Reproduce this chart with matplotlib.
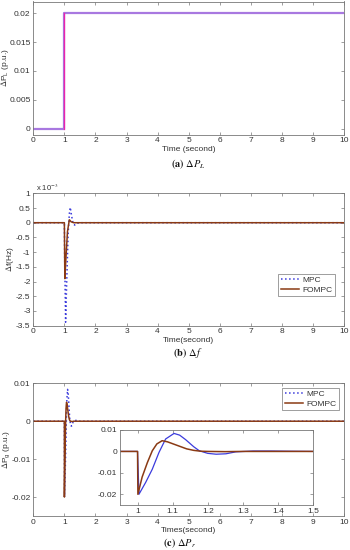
import matplotlib
matplotlib.use("Agg")
import matplotlib.pyplot as plt

# ---------------- data ----------------
t_load = [0, 1, 1, 10]
dPL = [0, 0, 0.02, 0.02]

t_f_mpc = [0, 1.0, 1.01, 1.04, 1.07, 1.12, 1.16, 1.19, 1.23, 1.28, 1.33, 1.4, 1.5, 10]
f_mpc = [0, 0, -1.2e-3, -3.38e-3, -2.2e-3, -0.4e-3, 0.3e-3, 0.52e-3, 0.25e-3,
         -0.02e-3, -0.08e-3, -0.02e-3, 0.0, 0.0]
t_f_fompc = [0, 1.0, 1.015, 1.05, 1.1, 1.16, 1.22, 1.3, 10]
f_fompc = [0, 0, -1.9e-3, -1.2e-3, -0.3e-3, 0.1e-3, 0.03e-3, 0.0, 0.0]

t_p_mpc = [0, 1.0, 1.004, 1.023, 1.042, 1.061, 1.08, 1.104, 1.12, 1.137, 1.16,
           1.176, 1.2, 1.224, 1.252, 1.28, 1.33, 1.38, 1.43, 1.5, 10]
p_mpc = [0, 0, -0.02, -0.0145, -0.0083, -0.0005, 0.0058, 0.0084, 0.0076, 0.0055,
         0.0022, 0.0003, -0.0009, -0.0013, -0.0011, -0.0002, 0.0002, 0.0002,
         0.0001, 0.0, 0.0]
t_p_fompc = [0, 1.0, 1.001, 1.013, 1.028, 1.042, 1.055, 1.07, 1.085, 1.1, 1.12,
             1.14, 1.16, 1.18, 1.2, 1.25, 1.3, 10]
p_fompc = [0, 0, -0.02, -0.012, -0.0052, 0.0003, 0.0035, 0.005, 0.0045, 0.0036,
           0.0024, 0.0012, 0.0005, 0.0001, 0.0, -0.0001, 0.0, 0.0]

xticks_main = list(range(0, 11))
yticks_a = [0, 0.005, 0.01, 0.015, 0.02]
yticks_b = [-3.5e-3, -3e-3, -2.5e-3, -2e-3, -1.5e-3, -1e-3, -0.5e-3, 0, 0.5e-3, 1e-3]
yticks_c = [-0.02, -0.01, 0, 0.01]
xticks_ins = [1, 1.1, 1.2, 1.3, 1.4, 1.5]
yticks_ins = [-0.02, -0.01, 0, 0.01]

# ---------------- style ----------------
plt.rcParams['font.family'] = ['Liberation Sans', 'DejaVu Sans']
plt.rcParams['axes.unicode_minus'] = False
plt.rcParams['mathtext.fontset'] = 'stix'
FS = 6
TXT = '#333333'
SPINE = '#777777'
MPC_C = '#3b3bdc'
FOMPC_C = '#8a3a14'

fig = plt.figure(figsize=(3.5, 5.5), dpi=100)


def style(ax):
    for s in ax.spines.values():
        s.set_color(SPINE)
        s.set_linewidth(0.6)
    ax.tick_params(direction='in', length=2, width=0.5, colors=SPINE,
                   labelcolor=TXT, labelsize=FS, top=True, right=True, pad=2)


W = 350.0
H = 550.0


def rect(l, t, r, b):
    return [l / W, 1 - b / H, (r - l) / W, (b - t) / H]


def legend(ax, **kw):
    lg = ax.legend(fontsize=FS, handlelength=2.2, handletextpad=0.4, borderpad=0.3,
                   labelspacing=0.2, fancybox=False, framealpha=1, **kw)
    lg.get_frame().set_edgecolor(SPINE)
    lg.get_frame().set_linewidth(0.5)
    for tx in lg.get_texts():
        tx.set_color(TXT)
    return lg


# Panel (a)
ax1 = fig.add_axes(rect(33.3, 1.5, 344, 134.7))
ax1.plot(t_load, dPL, color='#a878e0', lw=1.6)
ax1.plot(t_load[1:3], dPL[1:3], color='#ee22aa', lw=0.9)
ax1.set_xlim(0, 10)
ax1.set_ylim(-0.001, 0.022)
ax1.set_xticks(xticks_main)
ax1.set_yticks(yticks_a)
ax1.set_yticklabels(['0', '0.005', '0.01', '0.015', '0.02'])
ax1.set_xlabel('Time (second)', fontsize=FS, color=TXT, labelpad=1)
ax1.set_ylabel(r'$\Delta$P$_\mathregular{L}$ (p.u.)', fontsize=FS, color=TXT)
ax1.yaxis.set_label_coords(-0.071, 0.5)
style(ax1)
fig.text(188 / W, 1 - 164 / H, r'$\mathbf{(a)}$ $\Delta P_L$', ha='center', va='center',
         fontsize=7.5, color='#111111')

# Panel (b)
ax2 = fig.add_axes(rect(33.3, 193.3, 344, 325.7))
ax2.plot(t_f_mpc, f_mpc, color=MPC_C, lw=1.1, ls=':', label='MPC')
ax2.plot(t_f_fompc, f_fompc, color=FOMPC_C, lw=1.1, label='FOMPC')
ax2.set_xlim(0, 10)
ax2.set_ylim(-3.5e-3, 1e-3)
ax2.set_xticks(xticks_main)
ax2.set_yticks(yticks_b)
ax2.set_yticklabels(['-3.5', '-3', '-2.5', '-2', '-1.5', '-1', '-0.5', '0', '0.5', '1'])
ax2.text(0.01, 1.005, r'x 10$^{-3}$', transform=ax2.transAxes, fontsize=FS - 0.5,
         color=TXT, ha='left', va='bottom')
ax2.set_xlabel('Time(second)', fontsize=FS, color=TXT, labelpad=1)
ax2.set_ylabel(r'$\Delta$f(Hz)', fontsize=FS, color=TXT)
ax2.yaxis.set_label_coords(-0.057, 0.5)
style(ax2)
legend(ax2, loc='lower right', bbox_to_anchor=(0.985, 0.19))
fig.text(188 / W, 1 - 353 / H, r'$\mathbf{(b)}$ $\Delta f$', ha='center', va='center',
         fontsize=7.5, color='#111111')

# Panel (c)
ax3 = fig.add_axes(rect(33.3, 383.3, 344, 516))
ax3.plot(t_p_mpc, p_mpc, color=MPC_C, lw=1.1, ls=':', label='MPC')
ax3.plot(t_p_fompc, p_fompc, color=FOMPC_C, lw=1.1, label='FOMPC')
ax3.set_xlim(0, 10)
ax3.set_ylim(-0.025, 0.01)
ax3.set_xticks(xticks_main)
ax3.set_yticks(yticks_c)
ax3.set_yticklabels(['-0.02', '-0.01', '0', '0.01'])
ax3.set_xlabel('Times(second)', fontsize=FS, color=TXT, labelpad=1)
ax3.set_ylabel(r'$\Delta$P$_\mathregular{g}$ (p.u.)', fontsize=FS, color=TXT)
ax3.yaxis.set_label_coords(-0.068, 0.5)
style(ax3)
legend(ax3, loc='upper right', bbox_to_anchor=(0.997, 0.997))
fig.text(180 / W, 1 - 543 / H, r'$\mathbf{(c)}$ $\Delta P_r$', ha='center', va='center',
         fontsize=7.5, color='#111111')

# Inset
ax4 = fig.add_axes(rect(120, 430, 313, 505))
ax4.plot(t_p_mpc, p_mpc, color=MPC_C, lw=0.9, ls='-')
ax4.plot(t_p_fompc, p_fompc, color=FOMPC_C, lw=1.1)
ax4.set_xlim(0.95, 1.5)
ax4.set_ylim(-0.025, 0.01)
ax4.set_xticks(xticks_ins)
ax4.set_xticklabels(['1', '1.1', '1.2', '1.3', '1.4', '1.5'])
ax4.set_yticks(yticks_ins)
ax4.set_yticklabels(['-0.02', '-0.01', '0', '0.01'])
style(ax4)

fig.savefig('out.png', dpi=100)
